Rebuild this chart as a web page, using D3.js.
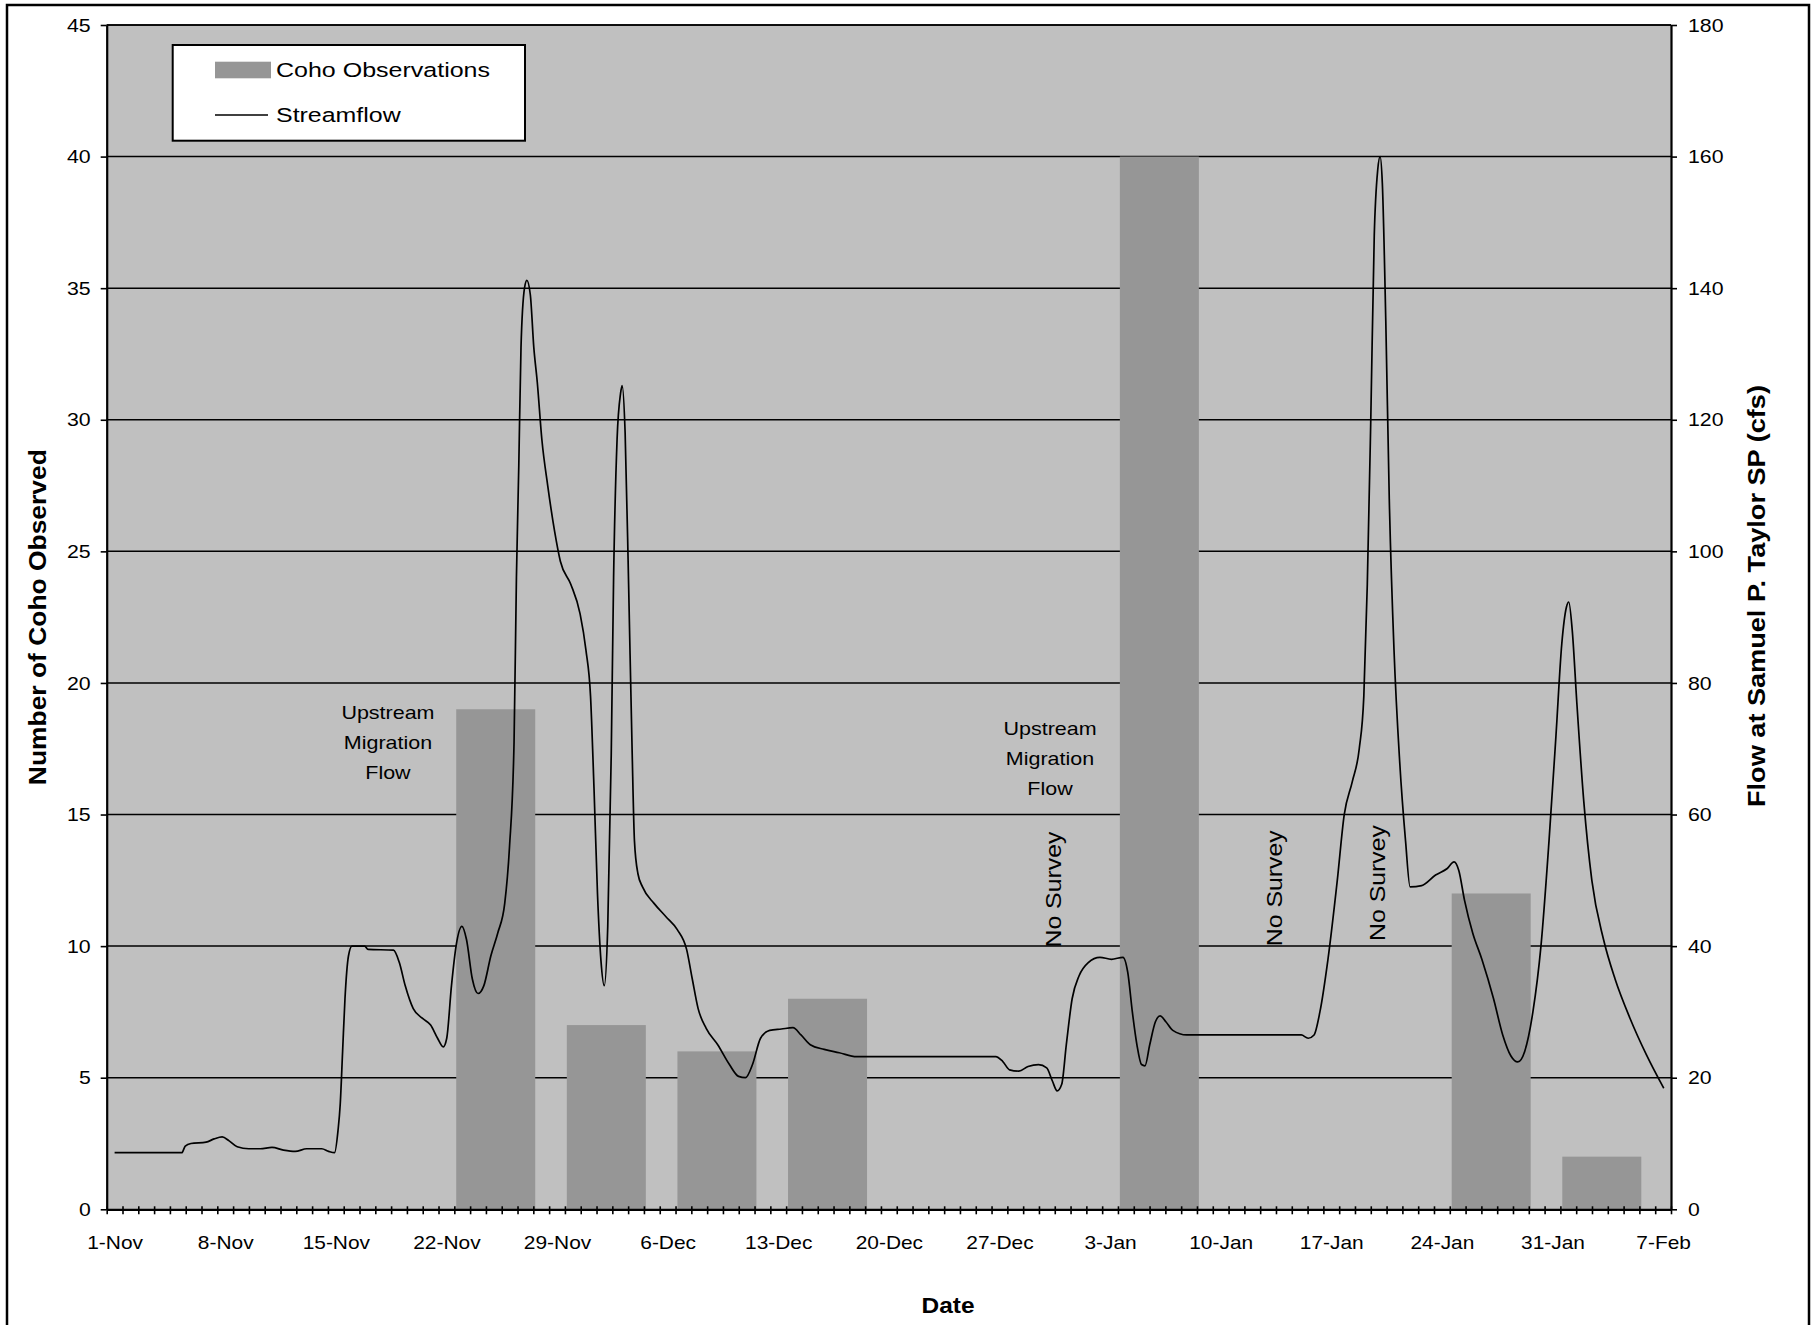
<!DOCTYPE html>
<html>
<head>
<meta charset="utf-8">
<script src="https://cdn.jsdelivr.net/npm/d3@7"></script>
<style>
  html, body { margin: 0; padding: 0; background: #ffffff; }
  svg { display: block; font-family: "Liberation Sans", Arial, sans-serif; }
</style>
</head>
<body>
<svg id="chart" width="1815" height="1325"></svg>
<script>
// ---------------- DATA ----------------
const startDate = "2004-11-01";
const dayCount = 99; // 1-Nov .. 8-Feb (daily categories)
const xTickLabels = ["1-Nov","8-Nov","15-Nov","22-Nov","29-Nov","6-Dec","13-Dec","20-Dec","27-Dec","3-Jan","10-Jan","17-Jan","24-Jan","31-Jan","7-Feb"];
const leftTicks = [0,5,10,15,20,25,30,35,40,45];
const rightTicks = [0,20,40,60,80,100,120,140,160,180];

// Coho observations (weekly surveys)
const cohoDates = ["2004-11-25","2004-12-02","2004-12-09","2004-12-16","2005-01-06","2005-01-27","2005-02-03"];
const cohoCounts = [19, 7, 6, 8, 40, 12, 2];

// Streamflow (cfs); time in days since 1-Nov 00:00
const flowDay = [
  0.50,4.75,4.97,5.33,6.29,6.80,7.31,7.75,8.26,8.99,
  9.72,10.46,11.19,11.93,12.66,13.61,14.05,14.42,14.64,14.78,
  14.93,15.08,15.30,15.52,16.32,16.54,18.15,18.52,18.89,19.40,
  19.99,20.50,20.94,21.30,21.52,21.82,22.11,22.48,22.77,23.14,
  23.50,23.87,24.31,24.75,25.19,25.49,25.78,25.93,26.08,26.22,
  26.44,26.59,26.81,27.03,27.25,27.54,27.91,28.35,28.71,29.37,
  29.96,30.33,30.62,30.84,31.06,31.28,31.49,31.71,31.93,32.08,
  32.30,32.52,32.62,32.81,33.03,33.25,33.40,33.62,33.91,34.64,
  35.38,36.11,36.70,37.06,37.43,37.94,38.67,39.41,39.99,40.43,
  40.87,41.38,41.96,42.70,43.43,43.94,44.53,45.41,46.36,47.46,
  56.26,56.70,57.14,57.73,58.31,58.97,59.49,59.85,60.15,60.44,
  60.73,61.10,61.54,62.12,62.86,63.59,64.32,64.62,64.91,65.20,
  65.49,65.71,66.01,66.37,66.67,67.03,67.47,68.35,75.60,76.04,
  76.41,76.78,77.29,77.88,78.32,78.83,79.27,79.56,79.78,80.00,
  80.22,80.44,80.59,80.73,80.95,81.17,81.47,81.83,82.20,82.49,
  83.22,84.10,84.84,85.27,85.57,85.93,86.45,87.03,87.77,88.35,
  88.87,89.30,89.74,90.26,90.77,91.28,91.72,92.09,92.38,92.53,
  92.75,93.04,93.48,93.99,94.73,95.46,96.41,97.44,98.54
];
const flowCfs = [
  8.6,8.6,9.6,10.0,10.2,10.7,11.0,10.4,9.5,9.2,
  9.2,9.4,9.0,8.8,9.2,9.2,8.8,8.6,12,16,
  24,32,38.5,40.0,40.0,39.5,39.4,37.5,34,30.5,
  29,28,26,24.7,26,34,40,43,41,35,
  32.8,34,38.5,42,46.5,55,71,96,113,131,
  140,141.2,139,131,125.7,117,110,103,98.5,95,
  90.5,85,78,64,48,37.8,34,43,69,96,
  117,124,125.2,118,95,70,56,51,49,46.5,
  44.5,42.5,39.5,35,30.5,27.5,25,22,20.2,20.0,
  22,26,27.2,27.4,27.6,26.5,25,24.3,23.8,23.2,
  23.2,22.5,21.2,21.0,21.7,22,21.5,19.5,18.0,19,
  25,32,35.5,37.5,38.3,38.0,38.3,36,30,25,
  22,21.8,25,28.5,29.4,28.5,27.2,26.5,26.5,26,
  26.5,30,38,50,60,65,70,78,95,120,
  148,158,160,156,135,108,85,68,56,49,
  49.2,50.8,51.8,52.8,51.5,47,42,38,32,26.5,
  23.3,22.4,24,30,40,56,72,86,91.5,92.3,
  88,77,62,50,41,35,29,23.5,18.4
];

// Annotations
const migrationNotes = [
  { lines: ["Upstream","Migration","Flow"], day: 17.8, value: 18.9 },
  { lines: ["Upstream","Migration","Flow"], day: 59.7, value: 18.3 }
];
const noSurveyDays = [59.9, 73.9, 80.4];
const noSurveyValues = [12.15, 12.2, 12.4];

// ---------------- CHART ----------------
const svg = d3.select("#chart");
const plot = { left: 106.7, right: 1671, top: 25, bottom: 1209.3 };

const t0 = Date.parse(startDate + "T00:00:00Z");
const dayToDate = d => new Date(t0 + d * 864e5);
const dateToDay = s => (Date.parse(s + "T00:00:00Z") - t0) / 864e5;

const x = d3.scaleUtc().domain([dayToDate(0), dayToDate(dayCount)]).range([plot.left, plot.right]);
const yL = d3.scaleLinear().domain([0, 45]).range([plot.bottom, plot.top]);
const yR = d3.scaleLinear().domain([0, 180]).range([plot.bottom, plot.top]);

function stretch(sel, k) {
  sel.each(function () {
    const L = this.getComputedTextLength();
    this.setAttribute("textLength", (L * k).toFixed(1));
    this.setAttribute("lengthAdjust", "spacingAndGlyphs");
  });
}

// outer frame
svg.append("rect").attr("x", 7).attr("y", 5).attr("width", 1802).attr("height", 1330)
  .attr("fill", "#fff").attr("stroke", "#000").attr("stroke-width", 2.5);

// plot background
svg.append("rect").attr("x", plot.left).attr("y", plot.top)
  .attr("width", plot.right - plot.left).attr("height", plot.bottom - plot.top)
  .attr("fill", "#c0c0c0");

// gridlines
svg.append("g").selectAll("line").data(leftTicks.filter(v => v > 0)).join("line")
  .attr("x1", plot.left).attr("x2", plot.right)
  .attr("y1", d => yL(d)).attr("y2", d => yL(d))
  .attr("stroke", "#000").attr("stroke-width", 1.5);

// bars (centred on survey day, ~5 days wide)
const barCentreOffset = 0.62, barHalf = 2.5; // days
svg.append("g").selectAll("rect").data(cohoDates.map((d, i) => ({ c: dateToDay(d) + barCentreOffset, v: cohoCounts[i] }))).join("rect")
  .attr("x", d => x(dayToDate(d.c - barHalf)))
  .attr("width", d => x(dayToDate(d.c + barHalf)) - x(dayToDate(d.c - barHalf)))
  .attr("y", d => yL(d.v))
  .attr("height", d => yL(0) - yL(d.v))
  .attr("fill", "#969696");

// streamflow line
const line = d3.line()
  .x((d, i) => x(dayToDate(flowDay[i])))
  .y((d, i) => yR(flowCfs[i]))
  .curve(d3.curveMonotoneX);
svg.append("path").datum(flowCfs).attr("d", line)
  .attr("fill", "none").attr("stroke", "#000").attr("stroke-width", 1.7).attr("stroke-linejoin", "round");

// x axis (ticks at category boundaries)
const tickDays = d3.range(0, dayCount + 1).map(dayToDate);
const gx = svg.append("g").attr("transform", `translate(0,${plot.bottom})`)
  .call(d3.axisBottom(x).tickValues(tickDays).tickSize(5).tickSizeOuter(0).tickFormat(""));
gx.select(".domain").attr("stroke", "#000").attr("stroke-width", 2.2);
gx.selectAll(".tick line").attr("y1", -3).attr("y2", 5).attr("stroke", "#000").attr("stroke-width", 1.6);

// x labels (at category centres, weekly)
const labelDates = xTickLabels.map((_, i) => dayToDate(i * 7 + 0.5));
const gxl = svg.append("g").attr("transform", `translate(0,${plot.bottom})`)
  .call(d3.axisBottom(x).tickValues(labelDates).tickSize(0).tickPadding(26).tickFormat((d, i) => xTickLabels[i]));
gxl.select(".domain").remove();
gxl.selectAll("text").attr("font-size", 19).attr("font-family", "Liberation Sans, Arial, sans-serif").attr("fill", "#000");
stretch(gxl.selectAll("text"), 1.1);

// left axis
const gl = svg.append("g").attr("transform", `translate(${plot.left},0)`)
  .call(d3.axisLeft(yL).tickValues(leftTicks).tickSize(6).tickSizeOuter(0).tickPadding(10));
gl.select(".domain").attr("stroke", "#000").attr("stroke-width", 2.2);
gl.selectAll(".tick line").attr("stroke", "#000").attr("stroke-width", 1.6);
gl.selectAll("text").attr("font-size", 19).attr("font-family", "Liberation Sans, Arial, sans-serif").attr("fill", "#000");
stretch(gl.selectAll("text"), 1.12);

// right axis
const gr = svg.append("g").attr("transform", `translate(${plot.right},0)`)
  .call(d3.axisRight(yR).tickValues(rightTicks).tickSize(6).tickSizeOuter(0).tickPadding(11));
gr.select(".domain").attr("stroke", "#000").attr("stroke-width", 2.2);
gr.selectAll(".tick line").attr("stroke", "#000").attr("stroke-width", 1.6);
gr.selectAll("text").attr("font-size", 19).attr("font-family", "Liberation Sans, Arial, sans-serif").attr("fill", "#000");
stretch(gr.selectAll("text"), 1.12);

// top border line
svg.append("line").attr("x1", plot.left).attr("x2", plot.right).attr("y1", plot.top).attr("y2", plot.top)
  .attr("stroke", "#000").attr("stroke-width", 1.6);

// axis titles
svg.append("text").attr("x", 948).attr("y", 1313).attr("text-anchor", "middle")
  .attr("font-size", 22).attr("font-weight", "bold").attr("textLength", 53).attr("lengthAdjust", "spacingAndGlyphs")
  .text("Date");
svg.append("text").attr("transform", `translate(46,${(plot.top + plot.bottom) / 2}) rotate(-90)`)
  .attr("text-anchor", "middle").attr("font-size", 23).attr("font-weight", "bold")
  .attr("textLength", 336).attr("lengthAdjust", "spacingAndGlyphs")
  .text("Number of Coho Observed");
svg.append("text").attr("transform", `translate(1765,596) rotate(-90)`)
  .attr("text-anchor", "middle").attr("font-size", 23).attr("font-weight", "bold")
  .attr("textLength", 422).attr("lengthAdjust", "spacingAndGlyphs")
  .text("Flow at Samuel P. Taylor SP (cfs)");

// annotations
migrationNotes.forEach(n => {
  const t = svg.append("text").attr("text-anchor", "middle").attr("font-size", 19).attr("fill", "#000");
  n.lines.forEach((s, i) => {
    t.append("tspan").attr("x", x(dayToDate(n.day))).attr("y", yL(n.value) + 7 + i * 30).text(s);
  });
  stretch(t.selectAll("tspan"), 1.13);
});
noSurveyDays.forEach((d, i) => {
  svg.append("text")
    .attr("transform", `translate(${x(dayToDate(d)) + 8},${yL(noSurveyValues[i])}) rotate(-90)`)
    .attr("text-anchor", "middle").attr("font-size", 22).attr("fill", "#000")
    .attr("textLength", 116).attr("lengthAdjust", "spacingAndGlyphs")
    .text("No Survey");
});

// legend
const lg = svg.append("g");
lg.append("rect").attr("x", 172.7).attr("y", 45).attr("width", 352.3).attr("height", 95.7)
  .attr("fill", "#fff").attr("stroke", "#000").attr("stroke-width", 2);
lg.append("rect").attr("x", 215).attr("y", 61.7).attr("width", 56).attr("height", 16.6).attr("fill", "#969696");
lg.append("text").attr("x", 276).attr("y", 76.7).attr("font-size", 20.5)
  .attr("textLength", 214).attr("lengthAdjust", "spacingAndGlyphs").text("Coho Observations");
lg.append("line").attr("x1", 215).attr("x2", 268).attr("y1", 115).attr("y2", 115).attr("stroke", "#000").attr("stroke-width", 1.6);
lg.append("text").attr("x", 276).attr("y", 121.7).attr("font-size", 20.5)
  .attr("textLength", 124.7).attr("lengthAdjust", "spacingAndGlyphs").text("Streamflow");
</script>
</body>
</html>
